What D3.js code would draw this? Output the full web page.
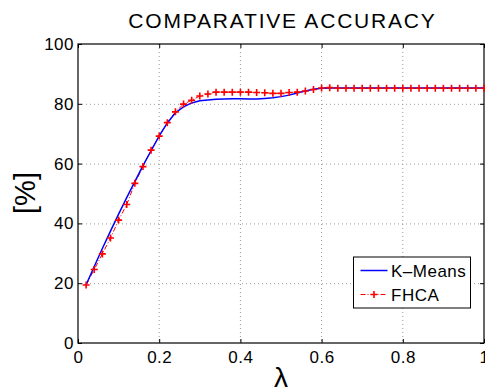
<!DOCTYPE html>
<html><head><meta charset="utf-8">
<script src="https://cdn.jsdelivr.net/npm/d3@7"></script>
<style>body{margin:0;background:#fff}svg{display:block}text{font-family:"Liberation Sans",Arial,sans-serif}</style>
</head><body><svg id="c" width="485" height="391"></svg>
<script>
const lambdas = [0.02,0.04,0.06,0.08,0.10,0.12,0.14,0.16,0.18,0.20,0.22,0.24,0.26,0.28,0.30,0.32,0.34,0.36,0.38,0.40,0.42,0.44,0.46,0.48,0.50,0.52,0.54,0.56,0.58,0.60,0.62,0.64,0.66,0.68,0.70,0.72,0.74,0.76,0.78,0.80,0.82,0.84,0.86,0.88,0.90,0.92,0.94,0.96,0.98,1.00];
const kmeans = [19.5,25.6,31.6,37.4,43.1,48.6,54.0,59.3,64.3,69.3,73.6,77.0,79.0,80.3,81.0,81.3,81.5,81.6,81.7,81.7,81.6,81.6,81.8,82.0,82.4,82.9,83.6,84.3,84.9,85.2,85.3,85.3,85.3,85.3,85.3,85.3,85.3,85.3,85.3,85.3,85.3,85.3,85.3,85.3,85.3,85.3,85.3,85.3,85.3,85.3];
const fhca = [19.4,24.6,29.8,35.1,41.1,46.3,53.4,59.0,64.5,69.2,73.7,77.3,79.9,81.2,82.6,83.3,83.9,83.9,83.9,83.9,83.9,83.8,83.7,83.5,83.5,83.8,83.9,84.3,84.8,85.3,85.4,85.2,85.2,85.2,85.2,85.2,85.2,85.2,85.2,85.2,85.2,85.2,85.2,85.2,85.2,85.2,85.2,85.2,85.2,85.2];
const xTicks = [0,0.2,0.4,0.6,0.8,1];
const yTicks = [0,20,40,60,80,100];
const seriesNames = ["K\u2013Means","FHCA"];

const svg = d3.select("#c");
const L=78,R=484,T=44,B=343;
const x = d3.scaleLinear().domain([0,1]).range([L,R]);
const y = d3.scaleLinear().domain([0,100]).range([B,T]);

// grid
const g = svg.append("g");
g.selectAll("line.gx").data(xTicks.slice(1,-1)).join("line")
 .attr("x1",d=>x(d)).attr("x2",d=>x(d)).attr("y1",T).attr("y2",B)
 .attr("stroke","#999").attr("stroke-width",1).attr("stroke-dasharray","1,3");
g.selectAll("line.gy").data(yTicks.slice(1,-1)).join("line")
 .attr("y1",d=>y(d)+0.5).attr("y2",d=>y(d)+0.5).attr("x1",L).attr("x2",R)
 .attr("stroke","#999").attr("stroke-width",1).attr("stroke-dasharray","1,3");

// axes
const fs=17, ls=0.5;
const xa = d3.axisBottom(x).tickValues(xTicks).tickSize(-4).tickFormat(d=>d===0||d===1?d3.format("d")(d):d3.format(".1f")(d));
const xt = svg.append("g").attr("transform",`translate(0,${B})`).call(xa);
xt.selectAll("text").attr("dy",null).attr("y",20);
const ya = d3.axisLeft(y).tickValues(yTicks).tickSize(-4).tickPadding(4);
const yt = svg.append("g").attr("transform",`translate(${L},0)`).call(ya);
const xa2 = d3.axisTop(x).tickValues(xTicks).tickSize(-4).tickFormat("");
const xt2 = svg.append("g").attr("transform",`translate(0,${T})`).call(xa2);
const ya2 = d3.axisRight(y).tickValues(yTicks).tickSize(-4).tickFormat("");
const yt2 = svg.append("g").attr("transform",`translate(${R},0)`).call(ya2);
[xt,yt,xt2,yt2].forEach(a=>{a.select(".domain").remove();a.selectAll("line").attr("stroke","#000");a.selectAll("text").attr("font-size",fs).attr("letter-spacing",ls).attr("fill","#000").attr("font-family","Liberation Sans, Arial, sans-serif");});
svg.append("rect").attr("x",L).attr("y",T).attr("width",R-L).attr("height",B-T).attr("fill","none").attr("stroke","#000").attr("stroke-width",1.2);

// lines
const line = d3.line().x((d,i)=>x(lambdas[i])).y(d=>y(d));
svg.append("path").datum(fhca).attr("d",line).attr("fill","none").attr("stroke","#f00").attr("stroke-width",1).attr("stroke-dasharray","5,2,1,2");
svg.append("path").datum(kmeans).attr("d",line).attr("fill","none").attr("stroke","#00f").attr("stroke-width",1.5);
const ms=3.5;
const mk = svg.append("g").attr("stroke","#f00").attr("stroke-width",1.6);
mk.selectAll("path").data(fhca).join("path")
 .attr("d",(d,i)=>`M${x(lambdas[i])-ms},${y(d)}H${x(lambdas[i])+ms}M${x(lambdas[i])},${y(d)-ms}V${y(d)+ms}`);

// title & labels
svg.append("text").attr("x",(L+R)/2+1.5).attr("y",28).attr("text-anchor","middle").attr("font-size",21).attr("letter-spacing",1.8).text("COMPARATIVE ACCURACY");
svg.append("text").attr("transform",`translate(35,193) rotate(-90)`).attr("text-anchor","middle").attr("font-size",29).text("[%]");
svg.append("text").attr("x",(L+R)/2).attr("y",387).attr("text-anchor","middle").attr("font-size",28).attr("font-family","DejaVu Serif, serif").text("\u03bb");

// legend
const lg = svg.append("g");
lg.append("rect").attr("x",353.5).attr("y",257).attr("width",117).attr("height",51).attr("fill","#fff").attr("stroke","#000").attr("stroke-width",1);
const ly=[270.5,294.5];
lg.append("line").attr("x1",360.5).attr("x2",387.5).attr("y1",ly[0]).attr("y2",ly[0]).attr("stroke","#00f").attr("stroke-width",1.5);
lg.append("line").attr("x1",360.5).attr("x2",387.5).attr("y1",ly[1]).attr("y2",ly[1]).attr("stroke","#f00").attr("stroke-width",1).attr("stroke-dasharray","5,2,1,2");
lg.append("path").attr("d",`M${374-ms},${ly[1]}H${374+ms}M374,${ly[1]-ms}V${ly[1]+ms}`).attr("stroke","#f00").attr("stroke-width",1.6);
lg.selectAll("text").data(seriesNames).join("text").attr("x",391).attr("y",(d,i)=>ly[i]+6).attr("font-size",fs).attr("letter-spacing",ls).text(d=>d);
</script></body></html>
